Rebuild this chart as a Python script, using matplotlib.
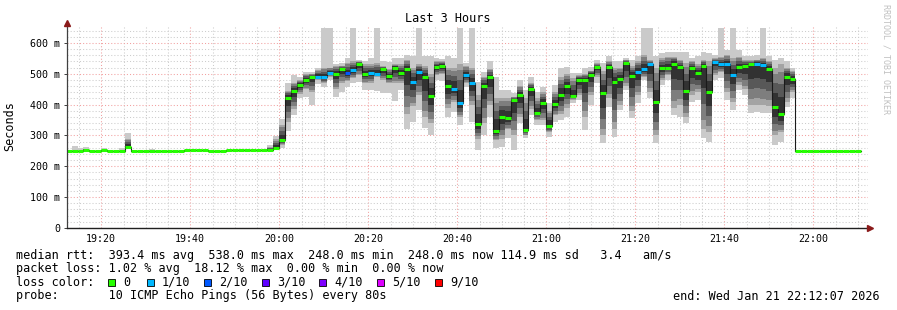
import matplotlib
matplotlib.use('Agg')
import matplotlib.pyplot as plt
from matplotlib.patches import Rectangle
from matplotlib.ticker import MultipleLocator
import numpy as np

plt.rcParams['font.family'] = 'DejaVu Sans Mono'

# time axis: minutes after 19:00, one bucket every 80 s starting 19:12:00
t0 = 12.0
step_min = 80 / 60.0

# median rtt per bucket (ms)
median = np.array([
    250, 250, 251, 253, 250, 250, 252, 250, 250, 250,
    261, 250, 250, 250, 250, 250, 250, 250, 250, 250,
    252, 252, 252, 252, 251, 250, 250, 252, 252, 252,
    252, 252, 252, 252, 253, 258,
    284, 423, 444, 464, 481, 491, 491, 488, 502, 500, 515, 502, 512, 532, 499, 504, 499,
    514, 492, 520, 504, 514, 473, 507, 491, 429, 521, 526, 460, 452, 404, 496, 470, 337, 461,
    488, 316, 360, 358, 414, 431, 317, 450, 374, 404, 332, 403, 432, 459, 429, 480, 481, 496,
    522, 436, 523, 473, 484, 534, 493, 507, 515, 530, 410, 518, 519, 533, 521, 445, 518, 502,
    525, 441, 539, 530, 533, 495, 521, 525, 530, 533, 529, 517, 391, 369, 491, 483,
    248, 248, 248, 248, 248, 248, 248, 248, 248, 248, 248,
])

# lost pings out of 10 per bucket
loss = np.array([0] * 36 + [
    0, 0, 0, 0, 0, 0, 1, 1, 1, 0, 0, 2, 1, 0, 0, 1, 1,
    0, 0, 0, 0, 0, 1, 1, 0, 0, 0, 0, 0, 1, 1, 1, 1, 0, 0,
    0, 0, 0, 0, 0, 0, 0, 0, 0, 0, 0, 0, 0, 0, 0, 0, 0, 0,
    0, 0, 0, 0, 0, 0, 0, 1, 1, 1, 0, 0, 0, 0, 0, 0, 0, 0,
    0, 0, 1, 1, 1, 1, 0, 0, 0, 1, 1, 0, 0, 0, 0, 0,
] + [0] * 11)

# smoke: lowest ping, inner low, inner high, highest ping (ms)
smoke_lo = np.array(list(median[:36]) + [
    258, 315, 366, 420, 426, 399, 466, 458, 480, 426, 442, 458, 469, 474, 448, 448, 445,
    437, 437, 412, 448, 321, 345, 383, 323, 302, 480, 475, 361, 377, 334, 458, 345, 253, 302,
    360, 258, 264, 291, 253, 340, 291, 366, 334, 334, 296, 345, 350, 361, 404, 415, 318, 399,
    469, 275, 393, 296, 383, 448, 356, 404, 480, 421, 275, 464, 480, 366, 361, 339, 410, 415,
    291, 280, 480, 485, 415, 383, 448, 431, 372, 377, 372, 372, 269, 280, 393, 420,
] + [248] * 11)
smoke_lo2 = np.array(list(median[:36]) + [
    270, 345, 385, 435, 450, 440, 480, 470, 490, 450, 470, 475, 485, 495, 470, 470, 490,
    480, 470, 470, 470, 370, 395, 430, 360, 340, 495, 500, 390, 410, 360, 470, 400, 290, 340,
    400, 285, 290, 320, 300, 360, 300, 385, 350, 350, 310, 365, 370, 390, 415, 430, 360, 430,
    490, 300, 420, 320, 400, 460, 380, 430, 490, 440, 300, 480, 495, 390, 400, 360, 430, 440,
    320, 310, 495, 505, 440, 410, 465, 450, 400, 400, 400, 395, 300, 310, 410, 440,
] + [248] * 11)
smoke_hi2 = np.array([
    250, 250, 251, 257, 250, 250, 252, 250, 250, 250,
    290, 250, 250, 250, 250, 250, 250, 250, 250, 250,
    252, 252, 252, 252, 251, 250, 250, 252, 252, 252,
    252, 252, 252, 252, 262, 288,
    335, 445, 470, 480, 500, 500, 512, 520, 520, 525, 525, 535, 540, 540, 530, 530, 535,
    525, 515, 530, 530, 545, 520, 530, 525, 500, 540, 540, 520, 520, 530, 525, 520, 430, 490,
    515, 420, 420, 420, 425, 460, 420, 470, 420, 440, 380, 440, 490, 500, 485, 495, 500, 510,
    535, 510, 540, 520, 520, 545, 525, 540, 560, 545, 520, 550, 555, 555, 545, 535, 540, 530,
    545, 540, 550, 555, 560, 550, 555, 545, 545, 545, 550, 540, 520, 530, 520, 510,
] + [248] * 11)
smoke_hi = np.array([
    250, 266, 260, 262, 250, 250, 260, 250, 250, 258,
    309, 250, 250, 250, 256, 250, 250, 250, 250, 250,
    252, 252, 252, 252, 251, 250, 250, 252, 252, 252,
    252, 252, 252, 252, 270, 297,
    352, 469, 496, 491, 507, 507, 520, 648, 648, 531, 534, 550, 648, 545, 540, 550, 648,
    540, 537, 550, 552, 561, 556, 648, 556, 556, 550, 548, 556, 550, 648, 536, 648, 474, 507,
    540, 491, 448, 448, 437, 480, 448, 491, 442, 458, 404, 464, 518, 523, 502, 502, 518, 523,
    545, 534, 556, 540, 540, 550, 545, 556, 648, 648, 556, 566, 572, 572, 572, 572, 550, 556,
    572, 566, 561, 648, 577, 648, 577, 556, 556, 561, 648, 556, 545, 550, 540, 518,
] + [248] * 11)

loss_levels = [0, 1, 2, 3, 4, 5, 9]
loss_labels = ['0', '1/10', '2/10', '3/10', '4/10', '5/10', '9/10']
loss_colors = ['#26ff00', '#00b8ff', '#0059ff', '#5e00ff', '#7e00ff', '#dd00ff', '#ff0000']

x_labels = ['19:20', '19:40', '20:00', '20:20', '20:40', '21:00', '21:20', '21:40', '22:00']
y_labels = ['0', '100 m', '200 m', '300 m', '400 m', '500 m', '600 m']

stats_rtt = "median rtt:  393.4 ms avg  538.0 ms max  248.0 ms min  248.0 ms now 114.9 ms sd   3.4   am/s"
stats_loss = "packet loss: 1.02 % avg  18.12 % max  0.00 % min  0.00 % now"
probe_text = "probe:       10 ICMP Echo Pings (56 Bytes) every 80s"
end_text = "end: Wed Jan 21 22:12:07 2026"

W, H = 897, 310
fig = plt.figure(figsize=(W / 100, H / 100), dpi=100, facecolor='white')
ax = fig.add_axes([67 / W, (H - 228) / H, 801 / W, 203 / H])
ax.set_xlim(12.3, 192.3)
ax.set_ylim(0, 658)

edges = t0 + step_min * np.arange(len(median) + 1)


def ext(a):
    return np.append(a, a[-1])


# smoke layers, light outside to dark near the median
shades = ['#cacaca', '#a4a4a4', '#7e7e7e', '#585858', '#323232']
ax.fill_between(edges, ext(smoke_lo), ext(smoke_hi), step='post', color=shades[0], lw=0, antialiased=False)
ax.fill_between(edges, ext(smoke_lo2), ext(smoke_hi2), step='post', color=shades[1], lw=0, antialiased=False)
for f, c in zip([0.15, 0.4, 0.65], shades[2:]):
    low = smoke_lo2 + f * (median - smoke_lo2)
    high = smoke_hi2 - f * (smoke_hi2 - median)
    ax.fill_between(edges, ext(low), ext(high), step='post', color=c, lw=0, antialiased=False)

# median line + loss coloured segments
ax.step(edges, ext(median), where='post', color='#1a1a1a', lw=0.8)
seg_colors = [loss_colors[loss_levels.index(v)] for v in loss]
ax.hlines(median, edges[:-1], edges[1:], colors=seg_colors, lw=2.2, capstyle='butt')

# grid
ax.xaxis.set_major_locator(MultipleLocator(20))
ax.xaxis.set_minor_locator(MultipleLocator(5))
ax.yaxis.set_major_locator(MultipleLocator(100))
ax.yaxis.set_minor_locator(MultipleLocator(20))
ax.grid(which='minor', color='#cccccc', ls=(0, (1, 2)), lw=0.75)
ax.grid(which='major', color='#f2a0a0', ls=(0, (1, 2)), lw=0.75)
ax.set_axisbelow(True)

ax.set_xticks(np.arange(20, 181, 20))
ax.set_xticklabels(x_labels)
ax.set_yticks(np.arange(0, 601, 100))
ax.set_yticklabels(y_labels)
ax.tick_params(axis='x', which='major', length=0, pad=4.5, labelsize=7.2)
ax.tick_params(axis='y', which='major', length=2.5, width=0.7, pad=2.5, labelsize=7.2, color='#404040')
ax.tick_params(which='minor', length=0)

for s in ax.spines.values():
    s.set_visible(False)
ax.plot([0, 0], [0, 1.005], transform=ax.transAxes, color='#404040', lw=0.9, clip_on=False)
ax.plot([0, 1.0], [0, 0], transform=ax.transAxes, color='#202020', lw=1.0, clip_on=False)
ax.plot([0], [1.01], transform=ax.transAxes, marker='^', ms=4, color='#8b1a1a', clip_on=False)
ax.plot([1.003], [0], transform=ax.transAxes, marker='>', ms=4, color='#8b1a1a', clip_on=False)

# titles and side texts
fig.text(448 / W, 1 - 19 / H, 'Last 3 Hours', ha='center', va='center', fontsize=8.6)
fig.text(10 / W, 1 - 126 / H, 'Seconds', rotation=90, ha='center', va='center', fontsize=8.5)
fig.text(886 / W, 1 - 4 / H, 'RRDTOOL / TOBI OETIKER', rotation=270, ha='center', va='top',
         fontsize=6, color='#c0c0c0')

# legend block
fs = 8.5
fig.text(16 / W, 1 - 255 / H, stats_rtt, va='center', fontsize=fs)
fig.text(16 / W, 1 - 268.5 / H, stats_loss, va='center', fontsize=fs)
fig.text(16 / W, 1 - 282 / H, 'loss color:', va='center', fontsize=fs)
box_x = [108, 147, 204, 262, 319, 377, 435]
for bx, lab, col in zip(box_x, loss_labels, loss_colors):
    fig.add_artist(Rectangle((bx / W, 1 - 286 / H), 7 / W, 7 / H, facecolor=col,
                             edgecolor='black', lw=0.6, transform=fig.transFigure))
    fig.text((bx + 15) / W, 1 - 282 / H, lab, va='center', fontsize=fs)
fig.text(16 / W, 1 - 296 / H, probe_text, va='center', fontsize=fs)
fig.text(880 / W, 1 - 296 / H, end_text, ha='right', va='center', fontsize=fs)

fig.savefig('out.png', dpi=100, facecolor='white')
